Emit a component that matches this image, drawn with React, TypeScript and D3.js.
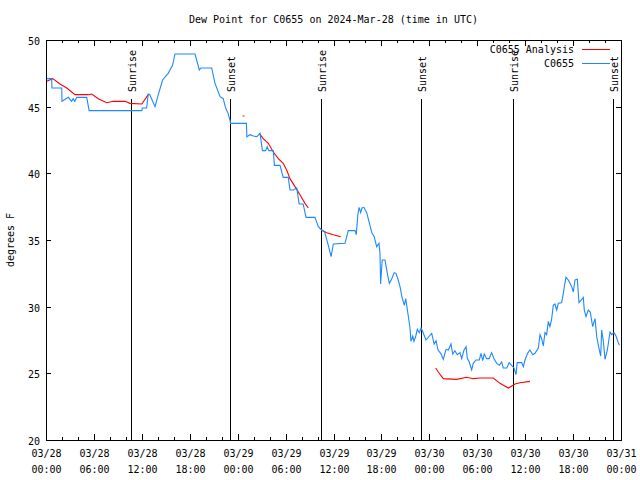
import React from "react";
import * as d3 from "d3";

// ---- data (hours since 2024-03-28 00:00 UTC) ----
const stationHours = [0, 0.7, 0.75, 1.97, 2.0, 2.8, 3.2, 3.4, 3.6, 3.85, 5.1, 5.4, 12.0, 12.05, 12.6, 12.8, 13.0, 13.65, 14.06, 14.6, 15.3, 15.85, 16.15, 18.66, 19.2, 19.4, 19.7, 20.75, 21.16, 21.8, 22.2, 22.4, 22.6, 22.8, 23.04, 23.1, 25.1, 25.15, 25.55, 25.96, 26.4, 26.8, 27.1, 27.5, 27.7, 27.9, 28.46, 28.6, 29.3, 29.7, 30.34, 30.55, 30.97, 31.4, 31.7, 32.2, 32.56, 33.68, 34.1, 34.5, 34.9, 35.35, 35.7, 35.98, 37.44, 37.85, 38.7, 38.85, 39.05, 39.2, 39.4, 39.57, 39.8, 40.16, 40.5, 40.8, 41.1, 41.4, 41.7, 41.82, 41.9, 42.1, 42.45, 42.74, 42.99, 43.3, 43.6, 43.83, 44.1, 44.33, 44.58, 44.87, 45.04, 45.29, 45.58, 45.7, 45.92, 46.08, 46.3, 46.5, 46.74, 46.96, 47.25, 47.58, 48.0, 48.3, 48.6, 48.84, 49.09, 49.42, 49.75, 50.09, 50.38, 50.71, 50.93, 51.2, 51.5, 51.84, 52.05, 52.34, 52.6, 52.76, 52.97, 53.3, 53.5, 53.84, 54.26, 54.47, 54.68, 54.88, 55.18, 55.5, 55.8, 56.1, 56.44, 56.76, 57.06, 57.26, 57.69, 58.0, 58.3, 58.6, 58.85, 59.0, 59.57, 59.77, 59.98, 60.3, 60.6, 60.95, 61.23, 61.65, 61.86, 62.07, 62.27, 62.48, 62.69, 62.9, 63.1, 63.3, 63.52, 63.73, 63.95, 64.15, 64.57, 64.78, 64.9, 65.11, 65.4, 65.83, 66.03, 66.24, 66.53, 66.74, 67.08, 67.28, 67.4, 67.62, 67.9, 68.15, 68.45, 68.75, 68.96, 69.28, 69.46, 69.58, 69.79, 70.0, 70.29, 70.63, 70.84, 71.13, 71.37, 71.66, 71.8];
const stationValues = [47.1, 47.1, 46.4, 46.4, 45.4, 45.7, 45.4, 45.6, 45.4, 45.7, 45.7, 44.7, 44.7, 44.9, 44.9, 45.95, 45.9, 45.0, 45.9, 47.0, 47.5, 48.1, 48.95, 48.95, 47.75, 47.9, 47.9, 47.9, 46.75, 45.75, 45.6, 45.1, 44.75, 44.5, 44.0, 43.75, 43.75, 42.75, 42.9, 42.8, 42.75, 43.0, 41.7, 41.7, 42.0, 41.7, 41.7, 40.6, 40.6, 39.7, 39.7, 38.75, 38.75, 38.9, 37.7, 37.7, 36.7, 36.7, 36.0, 35.75, 35.6, 34.6, 33.75, 34.7, 34.75, 35.7, 35.7, 35.4, 36.9, 37.45, 37.05, 37.4, 37.45, 37.05, 36.25, 35.55, 35.25, 34.5, 34.75, 34.0, 31.7, 33.5, 33.5, 32.5, 31.75, 32.1, 32.55, 32.5, 32.0, 31.5, 30.7, 30.1, 30.6, 29.6, 28.4, 27.4, 27.8, 27.4, 27.8, 28.3, 28.05, 28.4, 28.0, 27.5, 27.8, 28.0, 27.2, 27.45, 26.75, 26.5, 26.05, 26.8, 26.75, 27.2, 26.45, 26.7, 26.4, 26.55, 26.1, 26.75, 27.0, 26.1, 25.9, 25.25, 25.75, 26.0, 26.0, 26.5, 25.95, 26.45, 26.1, 26.1, 26.55, 26.1, 25.75, 25.6, 25.85, 25.4, 25.4, 25.8, 25.6, 25.4, 24.9, 25.8, 25.8, 25.5, 26.0, 26.5, 26.75, 26.4, 26.5, 26.9, 27.9, 27.6, 27.05, 28.05, 27.9, 28.9, 28.5, 29.0, 30.1, 30.2, 29.75, 30.25, 30.3, 31.0, 31.5, 32.2, 32.0, 31.5, 31.1, 32.0, 32.05, 30.3, 30.55, 30.7, 29.75, 29.25, 29.75, 29.6, 28.5, 29.1, 27.75, 26.75, 26.3, 28.25, 27.4, 26.05, 26.75, 28.1, 27.9, 28.05, 27.8, 27.3, 27.1];

// analysis series; NaN marks a gap
const analysisHours = [0.09, 0.84, 1.75, 2.6, 3.63, 5.3, 5.72, 6.55, 7.6, 8.43, 9.9, 10.5, 12.0, 12.8, NaN, 24.62, 24.85, NaN, 26.7, 27.2, 27.84, 28.46, 29.09, 29.7, 30.14, 30.55, 31.18, 31.8, 32.43, 32.85, NaN, 34.52, 35.15, 35.98, 36.9, NaN, 48.8, 49.12, 49.75, 51.43, 52.68, 53.5, 54.35, 56.0, 56.85, 57.9, 58.73, 59.35, 60.6];
const analysisValues = [46.9, 47.1, 46.7, 46.4, 45.9, 45.9, 45.95, 45.6, 45.3, 45.4, 45.4, 45.25, 45.2, 45.9, NaN, 44.3, 44.3, NaN, 43.0, 42.6, 42.25, 41.6, 41.1, 40.75, 40.25, 39.6, 39.0, 38.4, 37.75, 37.4, NaN, 35.75, 35.55, 35.4, 35.25, NaN, 25.4, 25.1, 24.6, 24.55, 24.7, 24.6, 24.65, 24.65, 24.25, 23.9, 24.2, 24.3, 24.4];

const sunHours = [10.73, 23.13, 34.6, 47.12, 58.64, 71.16];
const sunLabels = ["Sunrise", "Sunset", "Sunrise", "Sunset", "Sunrise", "Sunset"];

const yTicks = [20, 25, 30, 35, 40, 45, 50];
const seriesNames = ["C0655 Analysis", "C0655"];
const seriesColors = ["#ff0000", "#1e88ff"];
const title = "Dew Point for C0655 on 2024-Mar-28 (time in UTC)";
const yLabel = "degrees F";

const START = Date.UTC(2024, 2, 28);
const toDate = (h: number) => new Date(START + h * 3600e3);

export default function App() {
  const W = 640, H = 480;
  const L = 46, R = 621, T = 40, B = 440;
  const font = "'DejaVu Sans Mono', monospace";
  const x = d3.scaleUtc().domain([toDate(0), toDate(72)]).range([L, R]);
  const y = d3.scaleLinear().domain([20, 50]).range([B, T]);

  const major = d3.utcHour.every(6)!.range(toDate(0), toDate(72.01));
  const minor = d3.utcHour.every(2)!.range(toDate(0), toDate(72.01));
  const fmtD = d3.utcFormat("%m/%d");
  const fmtT = d3.utcFormat("%H:%M");

  const line = d3
    .line<[number, number]>()
    .defined((d) => !isNaN(d[0]) && !isNaN(d[1]))
    .x((d) => x(toDate(d[0])))
    .y((d) => y(d[1]));

  const station = stationHours.map((h, i) => [h, stationValues[i]] as [number, number]);
  const analysis = analysisHours.map((h, i) => [h, analysisValues[i]] as [number, number]);

  const sunTop = 99;

  return (
    <svg width={W} height={H} style={{ position: "absolute", left: 0, top: 0, background: "#fff" }} fontFamily={font} fontSize={10}>
      <rect x={0} y={0} width={W} height={H} fill="#fff" />
      <text x={(L + R) / 2} y={23} textAnchor="middle">{title}</text>

      {/* sun lines */}
      {sunHours.map((h, i) => {
        const sx = Math.round(x(toDate(h))) - 0.5;
        return (
          <g key={"s" + i}>
            <line x1={sx} x2={sx} y1={sunTop} y2={B} stroke="#000" strokeWidth={1} shapeRendering="crispEdges" />
            <text transform={`translate(${sx + 4},${92}) rotate(-90)`} textAnchor="start">{sunLabels[i]}</text>
          </g>
        );
      })}

      {/* data */}
      <path d={line(analysis) || ""} fill="none" stroke={seriesColors[0]} strokeWidth={1.1} />
      <path d={line(station) || ""} fill="none" stroke={seriesColors[1]} strokeWidth={1.1} />

      {/* frame */}
      <rect x={L + 0.5} y={T + 0.5} width={R - L} height={B - T} fill="none" stroke="#000" shapeRendering="crispEdges" />

      {/* y ticks */}
      {yTicks.map((v) => {
        const yy = Math.round(y(v)) + 0.5;
        return (
          <g key={"y" + v}>
            <line x1={L} x2={L + 5} y1={yy} y2={yy} stroke="#000" shapeRendering="crispEdges" />
            <line x1={R - 5} x2={R} y1={yy} y2={yy} stroke="#000" shapeRendering="crispEdges" />
            <text x={40} y={yy + 4} textAnchor="end">{v}</text>
          </g>
        );
      })}

      {/* x ticks */}
      {minor.map((d, i) => {
        const xx = Math.round(x(d)) + 0.5;
        return (
          <g key={"m" + i}>
            <line x1={xx} x2={xx} y1={B} y2={B - 3} stroke="#000" shapeRendering="crispEdges" />
            <line x1={xx} x2={xx} y1={T} y2={T + 3} stroke="#000" shapeRendering="crispEdges" />
          </g>
        );
      })}
      {major.map((d, i) => {
        const xx = Math.round(x(d)) + 0.5;
        return (
          <g key={"M" + i}>
            <line x1={xx} x2={xx} y1={B} y2={B - 6} stroke="#000" shapeRendering="crispEdges" />
            <line x1={xx} x2={xx} y1={T} y2={T + 6} stroke="#000" shapeRendering="crispEdges" />
            <text x={xx} y={457} textAnchor="middle">{fmtD(d)}</text>
            <text x={xx} y={473} textAnchor="middle">{fmtT(d)}</text>
          </g>
        );
      })}

      <text transform={`translate(14,240) rotate(-90)`} textAnchor="middle">{yLabel}</text>

      {/* legend */}
      {seriesNames.map((n, i) => {
        const ly = 49 + i * 13.5;
        return (
          <g key={"l" + i}>
            <text x={574} y={ly + 4} textAnchor="end">{n}</text>
            <line x1={582} x2={610} y1={Math.round(ly) + 0.5} y2={Math.round(ly) + 0.5} stroke={seriesColors[i]} shapeRendering="crispEdges" />
          </g>
        );
      })}
    </svg>
  );
}
